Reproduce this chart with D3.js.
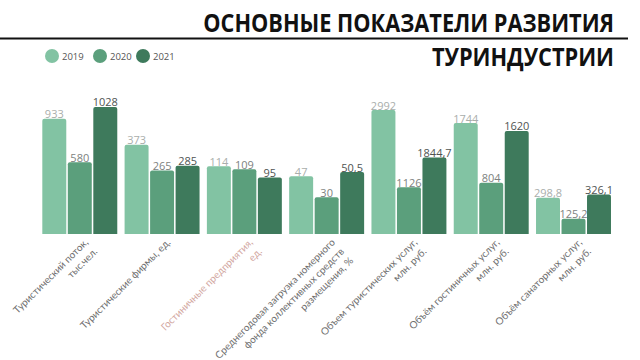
<!DOCTYPE html>
<html><head><meta charset="utf-8">
<script src="https://cdn.jsdelivr.net/npm/d3@7"></script>
<style>
html,body{margin:0;padding:0;background:#fff;}
svg{display:block;}
</style></head>
<body>
<svg id="chart" width="640" height="360"></svg>
<script>
const categories = [
  ["Туристический поток,", "тыс.чел."],
  ["Туристические фирмы, ед."],
  ["Гостиничные предприятия,", "ед."],
  ["Среднегодовая загрузка номерного", "фонда коллективных средств", "размещения, %"],
  ["Объем туристических услуг,", "млн. руб."],
  ["Объём гостиничных услуг,", "млн. руб."],
  ["Объём санаторных услуг,", "млн. руб."]
];
const years = ["2019", "2020", "2021"];
const values2019 = [933, 373, 114, 47, 2992, 1744, 298.8];
const values2020 = [580, 265, 109, 30, 1126, 804, 125.2];
const values2021 = [1028, 285, 95, 50.5, 1844.7, 1620, 326.1];
// each indicator has its own value axis; this is the value at the top of the plot area
const groupScaleMax = [1052, 543, 219, 106, 3137, 2043, 1070];
const titleLines = ["ОСНОВНЫЕ ПОКАЗАТЕЛИ РАЗВИТИЯ", "ТУРИНДУСТРИИ"];

const colors = ["#82c3a3", "#5b9f7c", "#3e7a5c"];
const labelColors = ["#a9aeab", "#7d8280", "#4f5452"];
const catColors = ["#6f6f6f", "#6f6f6f", "#d2a7a1", "#6f6f6f", "#6f6f6f", "#6f6f6f", "#6f6f6f"];

const svg = d3.select("#chart");
const font = "'Open Sans', 'Noto Sans', sans-serif";
const labelFont = "Lato, 'Open Sans', sans-serif";
const series = [values2019, values2020, values2021];
const idx = d3.range(categories.length);

const baseY = 234, topY = 104;
const x0 = d3.scaleBand().domain(idx).range([38.65, 614.65]).paddingInner(0.089).paddingOuter(0.0445);
const x1 = d3.scaleBand().domain(years).range([0, x0.bandwidth()]).paddingInner(0.06).paddingOuter(0);
const yScales = groupScaleMax.map(m => d3.scaleLinear().domain([0, m]).range([baseY, topY]));

// title (condensed horizontally)
[[titleLines[0], 32], [titleLines[1], 66]].forEach(([t, y]) => {
  svg.append("g").attr("transform", `translate(614,${y}) scale(0.87,1)`)
    .append("text").attr("x", 0).attr("y", 0).attr("text-anchor", "end")
    .attr("font-family", font).attr("font-weight", 700).attr("font-size", 25).attr("fill", "#111")
    .text(t);
});
svg.append("line").attr("x1", 0).attr("x2", 628).attr("y1", 38.5).attr("y2", 38.5)
  .attr("stroke", "#111").attr("stroke-width", 2);

// legend
const lg = svg.append("g").selectAll("g").data(years).join("g")
  .attr("transform", (d, i) => `translate(${[52, 100, 143][i]},56)`);
lg.append("circle").attr("r", 7).attr("fill", (d, i) => colors[i]);
lg.append("text").attr("x", 10).attr("y", 3.5).attr("font-family", font).attr("font-size", 9.5)
  .attr("fill", "#555").text(d => d);

// bars
const groups = svg.append("g").selectAll("g").data(idx).join("g")
  .attr("transform", i => `translate(${x0(i)},0)`);
const fmt = v => String(v).replace(".", ",");
years.forEach((yr, s) => {
  groups.append("path")
    .attr("fill", colors[s])
    .attr("d", i => {
      const y = yScales[i](series[s][i]);
      const xl = x1(yr), w = x1.bandwidth(), r = 2;
      return `M${xl},${baseY}V${y + r}Q${xl},${y} ${xl + r},${y}H${xl + w - r}Q${xl + w},${y} ${xl + w},${y + r}V${baseY}Z`;
    });
  groups.append("text")
    .attr("x", x1(yr) + x1.bandwidth() / 2)
    .attr("y", i => yScales[i](series[s][i]) - 0.5)
    .attr("text-anchor", "middle").attr("font-family", font).attr("font-size", 11)
    .attr("fill", labelColors[s])
    .text(i => fmt(series[s][i]));
});

// category labels
const cl = svg.append("g").selectAll("text").data(idx).join("text")
  .attr("transform", i => `translate(${x0(i) + x0.bandwidth() / 2 + 9},243) rotate(-45)`)
  .attr("text-anchor", "end").attr("font-family", labelFont).attr("font-size", 10)
  .attr("fill", i => catColors[i]);
cl.selectAll("tspan").data(i => categories[i]).join("tspan")
  .attr("x", 0).attr("dy", (d, j) => j === 0 ? 0 : "1.3em").text(d => d);
</script>
</body></html>
